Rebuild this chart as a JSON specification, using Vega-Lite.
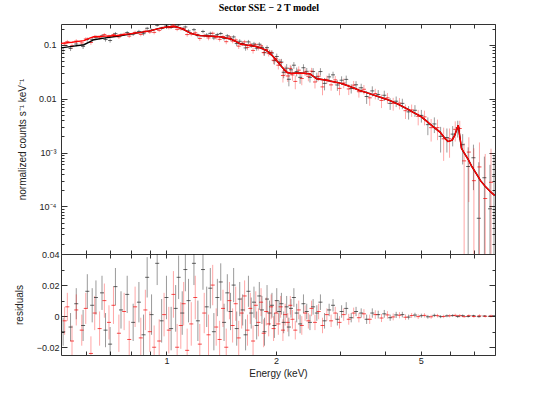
{
  "$schema": "https://vega.github.io/schema/vega-lite/v6.json",
  "padding": {"left": 13, "top": 3, "right": 5, "bottom": 5},
  "title": {"text": "Sector SSE − 2 T model", "font": "Liberation Serif", "fontSize": 10, "fontWeight": "bold", "anchor": "middle", "offset": 10, "dx": 14, "color": "#000"},
  "config": {
    "font": "Liberation Sans",
    "view": {"stroke": "#333", "strokeWidth": 1},
    "axis": {"grid": false, "domain": false, "tickColor": "#333", "tickWidth": 1, "labelColor": "#222", "titleColor": "#222", "labelFontSize": 9, "titleFontSize": 10, "titleFontWeight": "normal", "labelOverlap": false, "labelFlush": false}
  },
  "datasets": {
    "pts": [
      {"e":0.52,"s":"a","y":0.079,"lo":0.070,"hi":0.088,"r":-0.010,"d":0.009},
      {"e":0.545,"s":"a","y":0.086,"lo":0.077,"hi":0.095,"r":-0.007,"d":0.009},
      {"e":0.565,"s":"a","y":0.104,"lo":0.094,"hi":0.114,"r":0.008,"d":0.010},
      {"e":0.59,"s":"a","y":0.094,"lo":0.084,"hi":0.104,"r":-0.006,"d":0.010},
      {"e":0.606,"s":"a","y":0.126,"lo":0.115,"hi":0.137,"r":0.016,"d":0.011},
      {"e":0.625,"s":"a","y":0.127,"lo":0.116,"hi":0.138,"r":0.007,"d":0.011},
      {"e":0.64,"s":"a","y":0.139,"lo":0.128,"hi":0.150,"r":0.012,"d":0.011},
      {"e":0.665,"s":"a","y":0.147,"lo":0.136,"hi":0.158,"r":0.015,"d":0.011},
      {"e":0.68,"s":"a","y":0.126,"lo":0.115,"hi":0.137,"r":-0.009,"d":0.011},
      {"e":0.70,"s":"a","y":0.121,"lo":0.110,"hi":0.132,"r":-0.018,"d":0.011},
      {"e":0.724,"s":"a","y":0.162,"lo":0.150,"hi":0.174,"r":0.019,"d":0.012},
      {"e":0.75,"s":"a","y":0.153,"lo":0.141,"hi":0.165,"r":0.004,"d":0.012},
      {"e":0.78,"s":"a","y":0.170,"lo":0.158,"hi":0.182,"r":0.014,"d":0.012},
      {"e":0.81,"s":"a","y":0.159,"lo":0.147,"hi":0.171,"r":-0.004,"d":0.012},
      {"e":0.84,"s":"a","y":0.178,"lo":0.165,"hi":0.191,"r":0.009,"d":0.013},
      {"e":0.865,"s":"a","y":0.162,"lo":0.149,"hi":0.175,"r":-0.012,"d":0.013},
      {"e":0.885,"s":"a","y":0.204,"lo":0.191,"hi":0.217,"r":0.025,"d":0.013},
      {"e":0.91,"s":"a","y":0.188,"lo":0.175,"hi":0.201,"r":0.001,"d":0.013},
      {"e":0.943,"s":"a","y":0.232,"lo":0.218,"hi":0.246,"r":0.034,"d":0.014},
      {"e":0.97,"s":"a","y":0.203,"lo":0.189,"hi":0.217,"r":-0.003,"d":0.014},
      {"e":1.0,"s":"a","y":0.226,"lo":0.212,"hi":0.240,"r":0.012,"d":0.014},
      {"e":1.03,"s":"a","y":0.212,"lo":0.198,"hi":0.226,"r":-0.008,"d":0.014},
      {"e":1.06,"s":"a","y":0.223,"lo":0.208,"hi":0.238,"r":0.005,"d":0.015},
      {"e":1.08,"s":"a","y":0.236,"lo":0.222,"hi":0.250,"r":0.025,"d":0.014},
      {"e":1.105,"s":"a","y":0.201,"lo":0.187,"hi":0.215,"r":0.002,"d":0.014},
      {"e":1.127,"s":"a","y":0.216,"lo":0.202,"hi":0.230,"r":0.030,"d":0.014},
      {"e":1.15,"s":"a","y":0.182,"lo":0.168,"hi":0.196,"r":0.010,"d":0.014},
      {"e":1.19,"s":"a","y":0.192,"lo":0.178,"hi":0.206,"r":0.034,"d":0.014},
      {"e":1.22,"s":"a","y":0.149,"lo":0.136,"hi":0.162,"r":-0.003,"d":0.013},
      {"e":1.26,"s":"a","y":0.178,"lo":0.165,"hi":0.191,"r":0.030,"d":0.013},
      {"e":1.29,"s":"a","y":0.153,"lo":0.140,"hi":0.166,"r":0.006,"d":0.013},
      {"e":1.32,"s":"a","y":0.164,"lo":0.151,"hi":0.177,"r":0.018,"d":0.013},
      {"e":1.35,"s":"a","y":0.135,"lo":0.123,"hi":0.147,"r":-0.010,"d":0.012},
      {"e":1.38,"s":"a","y":0.156,"lo":0.144,"hi":0.168,"r":0.012,"d":0.012},
      {"e":1.41,"s":"a","y":0.163,"lo":0.151,"hi":0.175,"r":0.022,"d":0.012},
      {"e":1.44,"s":"a","y":0.133,"lo":0.121,"hi":0.145,"r":-0.004,"d":0.012},
      {"e":1.47,"s":"a","y":0.148,"lo":0.136,"hi":0.160,"r":0.015,"d":0.012},
      {"e":1.50,"s":"a","y":0.132,"lo":0.120,"hi":0.144,"r":0.003,"d":0.012},
      {"e":1.53,"s":"a","y":0.141,"lo":0.130,"hi":0.152,"r":0.020,"d":0.011},
      {"e":1.56,"s":"a","y":0.106,"lo":0.095,"hi":0.117,"r":-0.008,"d":0.011},
      {"e":1.59,"s":"a","y":0.117,"lo":0.106,"hi":0.128,"r":0.011,"d":0.011},
      {"e":1.62,"s":"a","y":0.106,"lo":0.096,"hi":0.116,"r":0.004,"d":0.010},
      {"e":1.65,"s":"a","y":0.088,"lo":0.078,"hi":0.098,"r":-0.012,"d":0.010},
      {"e":1.68,"s":"a","y":0.114,"lo":0.104,"hi":0.124,"r":0.016,"d":0.010},
      {"e":1.71,"s":"a","y":0.098,"lo":0.088,"hi":0.108,"r":0.002,"d":0.010},
      {"e":1.74,"s":"a","y":0.104,"lo":0.094,"hi":0.114,"r":0.009,"d":0.010},
      {"e":1.77,"s":"a","y":0.087,"lo":0.078,"hi":0.096,"r":-0.006,"d":0.009},
      {"e":1.80,"s":"a","y":0.103,"lo":0.094,"hi":0.112,"r":0.013,"d":0.009},
      {"e":1.83,"s":"a","y":0.090,"lo":0.081,"hi":0.099,"r":0.004,"d":0.009},
      {"e":1.86,"s":"a","y":0.072,"lo":0.063,"hi":0.081,"r":-0.010,"d":0.009},
      {"e":1.89,"s":"a","y":0.089,"lo":0.080,"hi":0.098,"r":0.011,"d":0.009},
      {"e":1.92,"s":"a","y":0.073,"lo":0.065,"hi":0.081,"r":0.002,"d":0.008},
      {"e":1.95,"s":"a","y":0.071,"lo":0.063,"hi":0.079,"r":0.007,"d":0.008},
      {"e":1.98,"s":"a","y":0.051,"lo":0.043,"hi":0.059,"r":-0.006,"d":0.008},
      {"e":2.01,"s":"a","y":0.061,"lo":0.053,"hi":0.069,"r":0.010,"d":0.008},
      {"e":2.04,"s":"a","y":0.048,"lo":0.041,"hi":0.055,"r":0.003,"d":0.007},
      {"e":2.07,"s":"a","y":0.048,"lo":0.041,"hi":0.055,"r":0.008,"d":0.007},
      {"e":2.10,"s":"a","y":0.031,"lo":0.024,"hi":0.038,"r":-0.004,"d":0.007},
      {"e":2.14,"s":"a","y":0.037,"lo":0.030,"hi":0.044,"r":0.006,"d":0.007},
      {"e":2.17,"s":"a","y":0.023,"lo":0.017,"hi":0.029,"r":-0.007,"d":0.006},
      {"e":2.20,"s":"a","y":0.0345,"lo":0.0285,"hi":0.0405,"r":0.005,"d":0.006},
      {"e":2.24,"s":"a","y":0.042,"lo":0.036,"hi":0.048,"r":0.012,"d":0.006},
      {"e":2.28,"s":"a","y":0.032,"lo":0.026,"hi":0.038,"r":0.002,"d":0.006},
      {"e":2.33,"s":"a","y":0.025,"lo":0.019,"hi":0.031,"r":-0.005,"d":0.006},
      {"e":2.38,"s":"a","y":0.0377,"lo":0.0317,"hi":0.0437,"r":0.008,"d":0.006},
      {"e":2.43,"s":"a","y":0.0323,"lo":0.0273,"hi":0.0373,"r":0.003,"d":0.005},
      {"e":2.48,"s":"a","y":0.025,"lo":0.020,"hi":0.030,"r":-0.004,"d":0.005},
      {"e":2.53,"s":"a","y":0.032,"lo":0.027,"hi":0.037,"r":0.006,"d":0.005},
      {"e":2.59,"s":"a","y":0.0255,"lo":0.0205,"hi":0.0305,"r":0.002,"d":0.005},
      {"e":2.65,"s":"a","y":0.032,"lo":0.027,"hi":0.037,"r":0.009,"d":0.005},
      {"e":2.72,"s":"a","y":0.0193,"lo":0.0143,"hi":0.0243,"r":-0.003,"d":0.005},
      {"e":2.80,"s":"a","y":0.0255,"lo":0.0215,"hi":0.0295,"r":0.004,"d":0.004},
      {"e":2.87,"s":"a","y":0.0278,"lo":0.0238,"hi":0.0318,"r":0.007,"d":0.004},
      {"e":2.95,"s":"a","y":0.018,"lo":0.014,"hi":0.022,"r":-0.002,"d":0.004},
      {"e":3.03,"s":"a","y":0.0221,"lo":0.0181,"hi":0.0261,"r":0.003,"d":0.004},
      {"e":3.12,"s":"a","y":0.0229,"lo":0.0189,"hi":0.0269,"r":0.005,"d":0.004},
      {"e":3.22,"s":"a","y":0.0155,"lo":0.0125,"hi":0.0185,"r":-0.001,"d":0.003},
      {"e":3.32,"s":"a","y":0.0182,"lo":0.0152,"hi":0.0212,"r":0.003,"d":0.003},
      {"e":3.43,"s":"a","y":0.016,"lo":0.013,"hi":0.019,"r":0.002,"d":0.003},
      {"e":3.55,"s":"a","y":0.011,"lo":0.008,"hi":0.014,"r":-0.002,"d":0.003},
      {"e":3.68,"s":"a","y":0.014,"lo":0.011,"hi":0.017,"r":0.002,"d":0.003},
      {"e":3.82,"s":"a","y":0.012,"lo":0.0095,"hi":0.0145,"r":0.001,"d":0.0025},
      {"e":3.97,"s":"a","y":0.0116,"lo":0.0091,"hi":0.0141,"r":0.0015,"d":0.0025},
      {"e":4.12,"s":"a","y":0.0082,"lo":0.0062,"hi":0.0102,"r":-0.001,"d":0.002},
      {"e":4.28,"s":"a","y":0.0090,"lo":0.0070,"hi":0.0110,"r":0.0008,"d":0.002},
      {"e":4.45,"s":"a","y":0.0082,"lo":0.0064,"hi":0.0100,"r":0.001,"d":0.0018},
      {"e":4.63,"s":"a","y":0.0057,"lo":0.0041,"hi":0.0073,"r":-0.0006,"d":0.0016},
      {"e":4.82,"s":"a","y":0.0061,"lo":0.0046,"hi":0.0076,"r":0.0007,"d":0.0015},
      {"e":5.02,"s":"a","y":0.0049,"lo":0.0036,"hi":0.0062,"r":0.0003,"d":0.0013},
      {"e":5.23,"s":"a","y":0.0033,"lo":0.0021,"hi":0.0045,"r":-0.0004,"d":0.0012},
      {"e":5.45,"s":"a","y":0.0034,"lo":0.0023,"hi":0.0045,"r":0.0005,"d":0.0011},
      {"e":5.67,"s":"a","y":0.0020,"lo":0.0010,"hi":0.0030,"r":-0.0003,"d":0.0010},
      {"e":5.90,"s":"a","y":0.0019,"lo":0.0010,"hi":0.0028,"r":0.0002,"d":0.0009},
      {"e":6.12,"s":"a","y":0.0022,"lo":0.0013,"hi":0.0031,"r":0.0004,"d":0.0009},
      {"e":6.32,"s":"a","y":0.0029,"lo":0.0019,"hi":0.0039,"r":-0.0002,"d":0.0010},
      {"e":6.52,"s":"a","y":0.0014,"lo":0.0006,"hi":0.0022,"r":0.0003,"d":0.0008},
      {"e":6.75,"s":"a","y":0.00055,"lo":0.000001,"hi":0.00125,"r":-0.0002,"d":0.0007},
      {"e":6.98,"s":"a","y":0.0008,"lo":0.0002,"hi":0.0014,"r":0.0003,"d":0.0006},
      {"e":7.22,"s":"a","y":0.00006,"lo":0.000001,"hi":0.00066,"r":-0.0003,"d":0.0006},
      {"e":7.48,"s":"a","y":0.00034,"lo":0.000001,"hi":0.00084,"r":0.0001,"d":0.0005},
      {"e":7.75,"s":"a","y":0.00009,"lo":0.000001,"hi":0.00059,"r":-0.0001,"d":0.0005},
      {"e":7.95,"s":"a","y":0.00036,"lo":0.000001,"hi":0.00086,"r":0.0002,"d":0.0005},
      {"e":0.525,"s":"b","y":0.105,"lo":0.096,"hi":0.114,"r":-0.003,"d":0.009},
      {"e":0.534,"s":"b","y":0.115,"lo":0.106,"hi":0.124,"r":0.006,"d":0.009},
      {"e":0.55,"s":"b","y":0.096,"lo":0.086,"hi":0.106,"r":-0.016,"d":0.010},
      {"e":0.565,"s":"b","y":0.118,"lo":0.108,"hi":0.128,"r":0.004,"d":0.010},
      {"e":0.585,"s":"b","y":0.109,"lo":0.099,"hi":0.119,"r":-0.009,"d":0.010},
      {"e":0.60,"s":"b","y":0.129,"lo":0.119,"hi":0.139,"r":0.005,"d":0.010},
      {"e":0.62,"s":"b","y":0.111,"lo":0.100,"hi":0.122,"r":-0.024,"d":0.011},
      {"e":0.635,"s":"b","y":0.143,"lo":0.132,"hi":0.154,"r":0.002,"d":0.011},
      {"e":0.655,"s":"b","y":0.136,"lo":0.125,"hi":0.147,"r":-0.008,"d":0.011},
      {"e":0.675,"s":"b","y":0.156,"lo":0.145,"hi":0.167,"r":0.010,"d":0.011},
      {"e":0.695,"s":"b","y":0.144,"lo":0.133,"hi":0.155,"r":-0.004,"d":0.011},
      {"e":0.715,"s":"b","y":0.156,"lo":0.144,"hi":0.168,"r":0.007,"d":0.012},
      {"e":0.74,"s":"b","y":0.141,"lo":0.129,"hi":0.153,"r":-0.011,"d":0.012},
      {"e":0.765,"s":"b","y":0.159,"lo":0.147,"hi":0.171,"r":0.003,"d":0.012},
      {"e":0.79,"s":"b","y":0.146,"lo":0.134,"hi":0.158,"r":-0.015,"d":0.012},
      {"e":0.82,"s":"b","y":0.171,"lo":0.158,"hi":0.184,"r":0.006,"d":0.013},
      {"e":0.85,"s":"b","y":0.157,"lo":0.144,"hi":0.170,"r":-0.014,"d":0.013},
      {"e":0.875,"s":"b","y":0.181,"lo":0.168,"hi":0.194,"r":0.004,"d":0.013},
      {"e":0.90,"s":"b","y":0.173,"lo":0.160,"hi":0.186,"r":-0.010,"d":0.013},
      {"e":0.925,"s":"b","y":0.171,"lo":0.157,"hi":0.185,"r":-0.020,"d":0.014},
      {"e":0.955,"s":"b","y":0.187,"lo":0.173,"hi":0.201,"r":-0.016,"d":0.014},
      {"e":0.985,"s":"b","y":0.213,"lo":0.199,"hi":0.227,"r":0.001,"d":0.014},
      {"e":1.015,"s":"b","y":0.209,"lo":0.194,"hi":0.224,"r":-0.009,"d":0.015},
      {"e":1.045,"s":"b","y":0.233,"lo":0.218,"hi":0.248,"r":0.014,"d":0.015},
      {"e":1.07,"s":"b","y":0.195,"lo":0.180,"hi":0.210,"r":-0.020,"d":0.015},
      {"e":1.095,"s":"b","y":0.199,"lo":0.184,"hi":0.214,"r":-0.006,"d":0.015},
      {"e":1.115,"s":"b","y":0.201,"lo":0.187,"hi":0.215,"r":0.008,"d":0.014},
      {"e":1.14,"s":"b","y":0.156,"lo":0.142,"hi":0.170,"r":-0.022,"d":0.014},
      {"e":1.17,"s":"b","y":0.159,"lo":0.145,"hi":0.173,"r":-0.005,"d":0.014},
      {"e":1.20,"s":"b","y":0.168,"lo":0.154,"hi":0.182,"r":0.012,"d":0.014},
      {"e":1.235,"s":"b","y":0.132,"lo":0.119,"hi":0.145,"r":-0.018,"d":0.013},
      {"e":1.27,"s":"b","y":0.150,"lo":0.137,"hi":0.163,"r":0.002,"d":0.013},
      {"e":1.305,"s":"b","y":0.135,"lo":0.122,"hi":0.148,"r":-0.012,"d":0.013},
      {"e":1.34,"s":"b","y":0.165,"lo":0.152,"hi":0.178,"r":0.020,"d":0.013},
      {"e":1.37,"s":"b","y":0.137,"lo":0.125,"hi":0.149,"r":-0.007,"d":0.012},
      {"e":1.40,"s":"b","y":0.127,"lo":0.115,"hi":0.139,"r":-0.015,"d":0.012},
      {"e":1.43,"s":"b","y":0.143,"lo":0.131,"hi":0.155,"r":0.005,"d":0.012},
      {"e":1.46,"s":"b","y":0.115,"lo":0.103,"hi":0.127,"r":-0.020,"d":0.012},
      {"e":1.49,"s":"b","y":0.141,"lo":0.129,"hi":0.153,"r":0.010,"d":0.012},
      {"e":1.52,"s":"b","y":0.118,"lo":0.107,"hi":0.129,"r":-0.006,"d":0.011},
      {"e":1.55,"s":"b","y":0.124,"lo":0.113,"hi":0.135,"r":0.008,"d":0.011},
      {"e":1.58,"s":"b","y":0.095,"lo":0.084,"hi":0.106,"r":-0.014,"d":0.011},
      {"e":1.61,"s":"b","y":0.105,"lo":0.095,"hi":0.115,"r":0.002,"d":0.010},
      {"e":1.64,"s":"b","y":0.114,"lo":0.104,"hi":0.124,"r":0.013,"d":0.010},
      {"e":1.67,"s":"b","y":0.090,"lo":0.080,"hi":0.100,"r":-0.009,"d":0.010},
      {"e":1.70,"s":"b","y":0.102,"lo":0.092,"hi":0.112,"r":0.005,"d":0.010},
      {"e":1.73,"s":"b","y":0.079,"lo":0.069,"hi":0.089,"r":-0.016,"d":0.010},
      {"e":1.76,"s":"b","y":0.101,"lo":0.092,"hi":0.110,"r":0.007,"d":0.009},
      {"e":1.79,"s":"b","y":0.088,"lo":0.079,"hi":0.097,"r":-0.004,"d":0.009},
      {"e":1.82,"s":"b","y":0.096,"lo":0.087,"hi":0.105,"r":0.009,"d":0.009},
      {"e":1.85,"s":"b","y":0.072,"lo":0.063,"hi":0.081,"r":-0.011,"d":0.009},
      {"e":1.88,"s":"b","y":0.082,"lo":0.073,"hi":0.091,"r":0.003,"d":0.009},
      {"e":1.91,"s":"b","y":0.069,"lo":0.061,"hi":0.077,"r":-0.005,"d":0.008},
      {"e":1.94,"s":"b","y":0.072,"lo":0.064,"hi":0.080,"r":0.006,"d":0.008},
      {"e":1.97,"s":"b","y":0.052,"lo":0.044,"hi":0.060,"r":-0.008,"d":0.008},
      {"e":2.00,"s":"b","y":0.055,"lo":0.047,"hi":0.063,"r":0.002,"d":0.008},
      {"e":2.03,"s":"b","y":0.042,"lo":0.035,"hi":0.049,"r":-0.005,"d":0.007},
      {"e":2.06,"s":"b","y":0.047,"lo":0.040,"hi":0.054,"r":0.006,"d":0.007},
      {"e":2.09,"s":"b","y":0.027,"lo":0.020,"hi":0.034,"r":-0.009,"d":0.007},
      {"e":2.12,"s":"b","y":0.034,"lo":0.027,"hi":0.041,"r":0.001,"d":0.007},
      {"e":2.155,"s":"b","y":0.0265,"lo":0.0205,"hi":0.0325,"r":-0.004,"d":0.006},
      {"e":2.19,"s":"b","y":0.0366,"lo":0.0306,"hi":0.0426,"r":0.007,"d":0.006},
      {"e":2.22,"s":"b","y":0.0277,"lo":0.0217,"hi":0.0337,"r":-0.002,"d":0.006},
      {"e":2.26,"s":"b","y":0.0210,"lo":0.0150,"hi":0.0270,"r":-0.009,"d":0.006},
      {"e":2.31,"s":"b","y":0.0340,"lo":0.0280,"hi":0.0400,"r":0.004,"d":0.006},
      {"e":2.355,"s":"b","y":0.0238,"lo":0.0178,"hi":0.0298,"r":-0.006,"d":0.006},
      {"e":2.405,"s":"b","y":0.0315,"lo":0.0265,"hi":0.0365,"r":0.002,"d":0.005},
      {"e":2.455,"s":"b","y":0.0261,"lo":0.0211,"hi":0.0311,"r":-0.003,"d":0.005},
      {"e":2.505,"s":"b","y":0.0325,"lo":0.0275,"hi":0.0375,"r":0.005,"d":0.005},
      {"e":2.56,"s":"b","y":0.0205,"lo":0.0155,"hi":0.0255,"r":-0.004,"d":0.005},
      {"e":2.62,"s":"b","y":0.0262,"lo":0.0212,"hi":0.0312,"r":0.003,"d":0.005},
      {"e":2.685,"s":"b","y":0.0166,"lo":0.0116,"hi":0.0216,"r":-0.006,"d":0.005},
      {"e":2.76,"s":"b","y":0.0229,"lo":0.0189,"hi":0.0269,"r":0.001,"d":0.004},
      {"e":2.835,"s":"b","y":0.0181,"lo":0.0141,"hi":0.0221,"r":-0.003,"d":0.004},
      {"e":2.91,"s":"b","y":0.0224,"lo":0.0184,"hi":0.0264,"r":0.002,"d":0.004},
      {"e":2.99,"s":"b","y":0.0156,"lo":0.0116,"hi":0.0196,"r":-0.004,"d":0.004},
      {"e":3.07,"s":"b","y":0.0196,"lo":0.0156,"hi":0.0236,"r":0.001,"d":0.004},
      {"e":3.17,"s":"b","y":0.0152,"lo":0.0117,"hi":0.0187,"r":-0.002,"d":0.0035},
      {"e":3.27,"s":"b","y":0.0179,"lo":0.0144,"hi":0.0214,"r":0.002,"d":0.0035},
      {"e":3.38,"s":"b","y":0.0135,"lo":0.0105,"hi":0.0165,"r":-0.001,"d":0.003},
      {"e":3.49,"s":"b","y":0.0150,"lo":0.0120,"hi":0.0180,"r":0.0015,"d":0.003},
      {"e":3.62,"s":"b","y":0.0104,"lo":0.0074,"hi":0.0134,"r":-0.002,"d":0.003},
      {"e":3.75,"s":"b","y":0.0125,"lo":0.0097,"hi":0.0153,"r":0.001,"d":0.0028},
      {"e":3.90,"s":"b","y":0.0093,"lo":0.0067,"hi":0.0119,"r":-0.0012,"d":0.0026},
      {"e":4.05,"s":"b","y":0.0104,"lo":0.0080,"hi":0.0128,"r":0.0008,"d":0.0024},
      {"e":4.20,"s":"b","y":0.0082,"lo":0.0060,"hi":0.0104,"r":-0.0005,"d":0.0022},
      {"e":4.37,"s":"b","y":0.0083,"lo":0.0063,"hi":0.0103,"r":0.0006,"d":0.002},
      {"e":4.54,"s":"b","y":0.0060,"lo":0.0042,"hi":0.0078,"r":-0.0007,"d":0.0018},
      {"e":4.72,"s":"b","y":0.0062,"lo":0.0046,"hi":0.0078,"r":0.0004,"d":0.0016},
      {"e":4.92,"s":"b","y":0.0047,"lo":0.0032,"hi":0.0062,"r":-0.0003,"d":0.0015},
      {"e":5.12,"s":"b","y":0.0046,"lo":0.0032,"hi":0.0060,"r":0.0005,"d":0.0014},
      {"e":5.34,"s":"b","y":0.0029,"lo":0.0016,"hi":0.0042,"r":-0.0004,"d":0.0013},
      {"e":5.56,"s":"b","y":0.0029,"lo":0.0017,"hi":0.0041,"r":0.0003,"d":0.0012},
      {"e":5.78,"s":"b","y":0.0018,"lo":0.0007,"hi":0.0029,"r":-0.0002,"d":0.0011},
      {"e":6.00,"s":"b","y":0.0018,"lo":0.0008,"hi":0.0028,"r":0.0002,"d":0.0010},
      {"e":6.22,"s":"b","y":0.0027,"lo":0.0016,"hi":0.0038,"r":0.0005,"d":0.0011},
      {"e":6.40,"s":"b","y":0.0028,"lo":0.0017,"hi":0.0039,"r":0.0003,"d":0.0011},
      {"e":6.58,"s":"b","y":0.0007,"lo":0.000001,"hi":0.0015,"r":-0.0003,"d":0.0008},
      {"e":6.78,"s":"b","y":0.00102,"lo":0.00012,"hi":0.00192,"r":0.0003,"d":0.0009},
      {"e":7.00,"s":"b","y":0.0003,"lo":0.000001,"hi":0.0012,"r":-0.0002,"d":0.0009},
      {"e":7.25,"s":"b","y":0.00054,"lo":0.000001,"hi":0.00154,"r":0.0002,"d":0.0010},
      {"e":7.52,"s":"b","y":0.00014,"lo":0.000001,"hi":0.00094,"r":-0.0001,"d":0.0008},
      {"e":7.80,"s":"b","y":0.00028,"lo":0.000001,"hi":0.00118,"r":0.0001,"d":0.0009}
    ],
    "mod": [
      {"e":0.513,"s":"a","m":0.088},{"e":0.55,"s":"a","m":0.094},{"e":0.593,"s":"a","m":0.101},{"e":0.615,"s":"a","m":0.114},{"e":0.632,"s":"a","m":0.125},{"e":0.68,"s":"a","m":0.135},{"e":0.732,"s":"a","m":0.145},{"e":0.78,"s":"a","m":0.156},{"e":0.81,"s":"a","m":0.162},
      {"e":0.85,"s":"a","m":0.171},{"e":0.90,"s":"a","m":0.183},{"e":0.95,"s":"a","m":0.201},{"e":1.00,"s":"a","m":0.214},{"e":1.03,"s":"a","m":0.22},{"e":1.06,"s":"a","m":0.218},{"e":1.09,"s":"a","m":0.207},{"e":1.12,"s":"a","m":0.19},{"e":1.16,"s":"a","m":0.167},{"e":1.20,"s":"a","m":0.156},{"e":1.24,"s":"a","m":0.149},{"e":1.30,"s":"a","m":0.147},{"e":1.38,"s":"a","m":0.144},{"e":1.44,"s":"a","m":0.137},{"e":1.50,"s":"a","m":0.129},{"e":1.55,"s":"a","m":0.116},{"e":1.60,"s":"a","m":0.104},{"e":1.68,"s":"a","m":0.098},{"e":1.77,"s":"a","m":0.093},{"e":1.83,"s":"a","m":0.086},{"e":1.89,"s":"a","m":0.078},{"e":1.95,"s":"a","m":0.064},{"e":2.01,"s":"a","m":0.051},{"e":2.07,"s":"a","m":0.040},{"e":2.14,"s":"a","m":0.031},{"e":2.20,"s":"a","m":0.0295},{"e":2.28,"s":"a","m":0.030},{"e":2.38,"s":"a","m":0.0297},{"e":2.48,"s":"a","m":0.029},{"e":2.59,"s":"a","m":0.0235},{"e":2.70,"s":"a","m":0.0225},{"e":2.80,"s":"a","m":0.0215},{"e":2.90,"s":"a","m":0.0205},{"e":3.00,"s":"a","m":0.0195},{"e":3.10,"s":"a","m":0.0182},{"e":3.20,"s":"a","m":0.0168},{"e":3.30,"s":"a","m":0.0155},{"e":3.40,"s":"a","m":0.0142},{"e":3.55,"s":"a","m":0.0130},{"e":3.70,"s":"a","m":0.0118},{"e":3.86,"s":"a","m":0.0107},{"e":4.00,"s":"a","m":0.0099},{"e":4.15,"s":"a","m":0.0090},{"e":4.30,"s":"a","m":0.0081},{"e":4.45,"s":"a","m":0.0072},{"e":4.60,"s":"a","m":0.0064},{"e":4.77,"s":"a","m":0.0056},{"e":5.00,"s":"a","m":0.0047},{"e":5.15,"s":"a","m":0.0040},{"e":5.30,"s":"a","m":0.0034},{"e":5.45,"s":"a","m":0.0029},{"e":5.65,"s":"a","m":0.0024},{"e":5.80,"s":"a","m":0.0019},{"e":5.94,"s":"a","m":0.0016},{"e":6.10,"s":"a","m":0.0017},{"e":6.20,"s":"a","m":0.0021},{"e":6.34,"s":"a","m":0.0032},{"e":6.47,"s":"a","m":0.0012},{"e":6.60,"s":"a","m":0.00095},{"e":6.75,"s":"a","m":0.00075},{"e":6.90,"s":"a","m":0.00056},{"e":7.10,"s":"a","m":0.00041},{"e":7.30,"s":"a","m":0.00030},{"e":7.50,"s":"a","m":0.00024},{"e":7.75,"s":"a","m":0.00019},{"e":7.98,"s":"a","m":0.00016},
      {"e":0.513,"s":"b","m":0.107},{"e":0.55,"s":"b","m":0.112},{"e":0.593,"s":"b","m":0.12},{"e":0.615,"s":"b","m":0.134},{"e":0.632,"s":"b","m":0.142},{"e":0.68,"s":"b","m":0.146},{"e":0.732,"s":"b","m":0.150},{"e":0.78,"s":"b","m":0.159},{"e":0.81,"s":"b","m":0.164},
      {"e":0.85,"s":"b","m":0.171},{"e":0.90,"s":"b","m":0.183},{"e":0.95,"s":"b","m":0.201},{"e":1.00,"s":"b","m":0.214},{"e":1.03,"s":"b","m":0.22},{"e":1.06,"s":"b","m":0.218},{"e":1.09,"s":"b","m":0.207},{"e":1.12,"s":"b","m":0.19},{"e":1.16,"s":"b","m":0.167},{"e":1.20,"s":"b","m":0.156},{"e":1.24,"s":"b","m":0.149},{"e":1.30,"s":"b","m":0.147},{"e":1.38,"s":"b","m":0.144},{"e":1.44,"s":"b","m":0.137},{"e":1.50,"s":"b","m":0.129},{"e":1.55,"s":"b","m":0.116},{"e":1.60,"s":"b","m":0.104},{"e":1.68,"s":"b","m":0.098},{"e":1.77,"s":"b","m":0.093},{"e":1.83,"s":"b","m":0.086},{"e":1.89,"s":"b","m":0.078},{"e":1.95,"s":"b","m":0.064},{"e":2.01,"s":"b","m":0.051},{"e":2.07,"s":"b","m":0.040},{"e":2.14,"s":"b","m":0.031},{"e":2.20,"s":"b","m":0.0295},{"e":2.28,"s":"b","m":0.030},{"e":2.38,"s":"b","m":0.0297},{"e":2.48,"s":"b","m":0.029},{"e":2.59,"s":"b","m":0.0235},{"e":2.70,"s":"b","m":0.0225},{"e":2.80,"s":"b","m":0.0215},{"e":2.90,"s":"b","m":0.0205},{"e":3.00,"s":"b","m":0.0195},{"e":3.10,"s":"b","m":0.0182},{"e":3.20,"s":"b","m":0.0168},{"e":3.30,"s":"b","m":0.0155},{"e":3.40,"s":"b","m":0.0142},{"e":3.55,"s":"b","m":0.0130},{"e":3.70,"s":"b","m":0.0118},{"e":3.86,"s":"b","m":0.0107},{"e":4.00,"s":"b","m":0.0099},{"e":4.15,"s":"b","m":0.0090},{"e":4.30,"s":"b","m":0.0081},{"e":4.45,"s":"b","m":0.0072},{"e":4.60,"s":"b","m":0.0064},{"e":4.77,"s":"b","m":0.0056},{"e":5.00,"s":"b","m":0.0047},{"e":5.15,"s":"b","m":0.0040},{"e":5.30,"s":"b","m":0.0034},{"e":5.45,"s":"b","m":0.0029},{"e":5.65,"s":"b","m":0.0024},{"e":5.80,"s":"b","m":0.0019},{"e":5.94,"s":"b","m":0.0016},{"e":6.10,"s":"b","m":0.0017},{"e":6.20,"s":"b","m":0.0021},{"e":6.34,"s":"b","m":0.0032},{"e":6.47,"s":"b","m":0.0012},{"e":6.60,"s":"b","m":0.00095},{"e":6.75,"s":"b","m":0.00075},{"e":6.90,"s":"b","m":0.00056},{"e":7.10,"s":"b","m":0.00041},{"e":7.30,"s":"b","m":0.00030},{"e":7.50,"s":"b","m":0.00024},{"e":7.75,"s":"b","m":0.00019},{"e":7.98,"s":"b","m":0.00016}
    ]
  },
  "bounds": "flush",
  "spacing": 0,
  "vconcat": [
    {
      "width": 434,
      "height": 230,
      "resolve": {"axis": {"x": "independent", "y": "independent"}},
      "layer": [
        {
          "data": {"name": "pts"},
          "transform": [{"filter": "datum.s == 'a'"}],
          "mark": {"type": "rule", "color": "#000", "opacity": 0.4, "strokeWidth": 1, "clip": true},
          "encoding": {
            "x": {"field": "e", "type": "quantitative", "scale": {"type": "log", "domain": [0.513, 8]},
                  "axis": {"orient": "bottom", "values": [0.6,0.7,0.8,0.9,1,2,3,4,5,6,7,8], "labels": false, "tickSize": -4, "title": null}},
            "y": {"field": "lo", "type": "quantitative", "scale": {"type": "log", "domain": [0.000013, 0.245], "clamp": true},
                  "axis": {"orient": "left", "values": [0.0001, 0.001, 0.01, 0.1], "tickSize": -6, "labelPadding": 11,
                           "labelExpr": "datum.value > 0.009 ? format(datum.value, '~g') : (datum.value > 0.0009 ? '10⁻³' : '10⁻⁴')",
                           "title": "normalized counts s⁻¹ keV⁻¹", "titlePadding": 11}},
            "y2": {"field": "hi"}
          }
        },
        {
          "data": {"name": "pts"},
          "transform": [{"filter": "datum.s == 'b'"}],
          "mark": {"type": "rule", "color": "#ff0000", "opacity": 0.35, "strokeWidth": 1, "clip": true},
          "encoding": {
            "x": {"field": "e", "type": "quantitative", "scale": {"type": "log", "domain": [0.513, 8]},
                  "axis": {"orient": "top", "values": [0.6,0.7,0.8,0.9,1,2,3,4,5,6,7,8], "labels": false, "tickSize": -4, "title": null}},
            "y": {"field": "lo", "type": "quantitative", "scale": {"type": "log", "domain": [0.000013, 0.245], "clamp": true},
                  "axis": {"orient": "left", "values": [0.00002,0.00003,0.00004,0.00005,0.00006,0.00007,0.00008,0.00009,0.0002,0.0003,0.0004,0.0005,0.0006,0.0007,0.0008,0.0009,0.002,0.003,0.004,0.005,0.006,0.007,0.008,0.009,0.02,0.03,0.04,0.05,0.06,0.07,0.08,0.09,0.2], "labels": false, "tickSize": -3, "title": null}},
            "y2": {"field": "hi"}
          }
        },
        {
          "data": {"name": "pts"},
          "transform": [{"filter": "datum.s == 'a'"}],
          "mark": {"type": "tick", "orient": "horizontal", "size": 4, "thickness": 1, "color": "#222", "clip": true},
          "encoding": {
            "x": {"field": "e", "type": "quantitative", "scale": {"type": "log", "domain": [0.513, 8]}, "axis": null},
            "y": {"field": "y", "type": "quantitative", "scale": {"type": "log", "domain": [0.000013, 0.245], "clamp": true},
                  "axis": {"orient": "right", "values": [0.0001, 0.001, 0.01, 0.1], "labels": false, "tickSize": -6, "title": null}}
          }
        },
        {
          "data": {"name": "pts"},
          "transform": [{"filter": "datum.s == 'b'"}],
          "mark": {"type": "tick", "orient": "horizontal", "size": 4, "thickness": 1, "color": "#ee0000", "clip": true},
          "encoding": {
            "x": {"field": "e", "type": "quantitative", "scale": {"type": "log", "domain": [0.513, 8]}, "axis": null},
            "y": {"field": "y", "type": "quantitative", "scale": {"type": "log", "domain": [0.000013, 0.245], "clamp": true},
                  "axis": {"orient": "right", "values": [0.00002,0.00003,0.00004,0.00005,0.00006,0.00007,0.00008,0.00009,0.0002,0.0003,0.0004,0.0005,0.0006,0.0007,0.0008,0.0009,0.002,0.003,0.004,0.005,0.006,0.007,0.008,0.009,0.02,0.03,0.04,0.05,0.06,0.07,0.08,0.09,0.2], "labels": false, "tickSize": -3, "title": null}}
          }
        },
        {
          "data": {"name": "mod"},
          "transform": [{"filter": "datum.s == 'a'"}],
          "mark": {"type": "line", "color": "#000", "strokeWidth": 1.4, "clip": true},
          "encoding": {
            "x": {"field": "e", "type": "quantitative", "scale": {"type": "log", "domain": [0.513, 8]}, "axis": null},
            "y": {"field": "m", "type": "quantitative", "scale": {"type": "log", "domain": [0.000013, 0.245], "clamp": true}, "axis": null}
          }
        },
        {
          "data": {"name": "mod"},
          "transform": [{"filter": "datum.s == 'b'"}],
          "mark": {"type": "line", "color": "#ff0000", "strokeWidth": 1.4, "clip": true},
          "encoding": {
            "x": {"field": "e", "type": "quantitative", "scale": {"type": "log", "domain": [0.513, 8]}, "axis": null},
            "y": {"field": "m", "type": "quantitative", "scale": {"type": "log", "domain": [0.000013, 0.245], "clamp": true}, "axis": null}
          }
        }
      ]
    },
    {
      "width": 434,
      "height": 101,
      "resolve": {"axis": {"x": "independent", "y": "independent"}},
      "layer": [
        {
          "data": {"name": "pts"},
          "transform": [{"filter": "datum.s == 'a'"}],
          "mark": {"type": "errorbar", "color": "#000", "opacity": 0.4, "thickness": 1},
          "encoding": {
            "x": {"field": "e", "type": "quantitative", "scale": {"type": "log", "domain": [0.513, 8]},
                  "axis": {"orient": "bottom", "values": [0.6,0.7,0.8,0.9,1,2,3,4,5,6,7,8], "tickSize": -4, "format": "~g", "labelPadding": 5,
                           "labelExpr": "datum.value == 1 || datum.value == 2 || datum.value == 5 ? datum.label : ''",
                           "title": "Energy (keV)", "titlePadding": 3}},
            "y": {"field": "r", "type": "quantitative", "scale": {"domain": [-0.025, 0.04], "clamp": true},
                  "axis": {"orient": "left", "values": [-0.02, 0, 0.02, 0.04], "tickSize": -6, "labelPadding": 8,
                           "labelExpr": "datum.value == 0 ? '0' : format(datum.value, '.2f')",
                           "title": "residuals", "titlePadding": 12}},
            "yError": {"field": "d"}
          }
        },
        {
          "data": {"name": "pts"},
          "transform": [{"filter": "datum.s == 'b'"}],
          "mark": {"type": "errorbar", "color": "#ff0000", "opacity": 0.35, "thickness": 1},
          "encoding": {
            "x": {"field": "e", "type": "quantitative", "scale": {"type": "log", "domain": [0.513, 8]},
                  "axis": {"orient": "top", "values": [0.6,0.7,0.8,0.9,1,2,3,4,5,6,7,8], "labels": false, "tickSize": -4, "title": null}},
            "y": {"field": "r", "type": "quantitative", "scale": {"domain": [-0.025, 0.04], "clamp": true},
                  "axis": {"orient": "left", "values": [-0.01, 0.01, 0.03], "labels": false, "tickSize": -3, "title": null}},
            "yError": {"field": "d"}
          }
        },
        {
          "data": {"name": "pts"},
          "transform": [{"filter": "datum.s == 'a'"}],
          "mark": {"type": "tick", "orient": "horizontal", "size": 4, "thickness": 1, "color": "#222", "clip": true},
          "encoding": {
            "x": {"field": "e", "type": "quantitative", "scale": {"type": "log", "domain": [0.513, 8]}, "axis": null},
            "y": {"field": "r", "type": "quantitative", "scale": {"domain": [-0.025, 0.04], "clamp": true},
                  "axis": {"orient": "right", "values": [-0.02, 0, 0.02, 0.04], "labels": false, "tickSize": -6, "title": null}}
          }
        },
        {
          "data": {"name": "pts"},
          "transform": [{"filter": "datum.s == 'b'"}],
          "mark": {"type": "tick", "orient": "horizontal", "size": 4, "thickness": 1, "color": "#ee0000", "clip": true},
          "encoding": {
            "x": {"field": "e", "type": "quantitative", "scale": {"type": "log", "domain": [0.513, 8]}, "axis": null},
            "y": {"field": "r", "type": "quantitative", "scale": {"domain": [-0.025, 0.04], "clamp": true},
                  "axis": {"orient": "right", "values": [-0.01, 0.01, 0.03], "labels": false, "tickSize": -3, "title": null}}
          }
        },
        {
          "mark": {"type": "rule", "color": "#00ee00", "strokeWidth": 1.3},
          "encoding": {
            "y": {"datum": 0, "type": "quantitative", "scale": {"domain": [-0.025, 0.04], "clamp": true}, "axis": null}
          }
        }
      ]
    }
  ]
}
